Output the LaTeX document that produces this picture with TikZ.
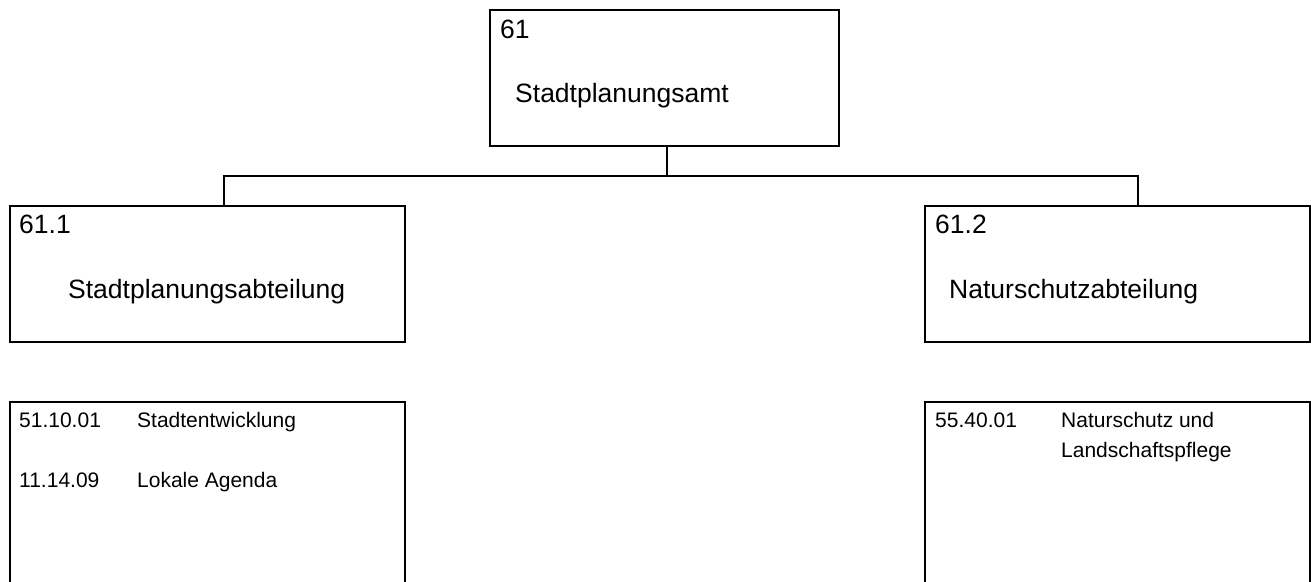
\documentclass[tikz,border=0pt]{standalone}
\usepackage{fontspec}
\setmainfont{Liberation Sans}
\begin{document}
\begin{tikzpicture}[x=1pt,y=-1pt,
  box/.style={draw, line width=2pt, rectangle, outer sep=0pt, inner sep=0pt, anchor=north west},
  big/.style={anchor=base west, inner sep=0pt, font=\fontsize{26.5}{30}\selectfont},
  small/.style={anchor=base west, inner sep=0pt, font=\fontsize{21}{30}\selectfont},
  conn/.style={line width=2pt}]
\path[use as bounding box] (0,0) rectangle (1311,581);
\clip (0,0) rectangle (1311,581);
% boxes
\node[box, minimum width=349pt, minimum height=136pt] (top) at (490,10) {};
\node[box, minimum width=395pt, minimum height=136pt] (l1) at (10,206) {};
\node[box, minimum width=385pt, minimum height=136pt] (r1) at (925,206) {};
\node[box, minimum width=395pt, minimum height=220pt] (l2) at (10,402) {};
\node[box, minimum width=385pt, minimum height=220pt] (r2) at (925,402) {};
% texts
\node[big] (t61) at (500,38) {61};
\node[big] (tamt) at (515,102) {Stadtplanungsamt};
\node[big] (t611) at (19,233) {61.1};
\node[big] (tspa) at (68,298) {Stadtplanungsabteilung};
\node[big] (t612) at (935,233) {61.2};
\node[big] (tnsa) at (949,298) {Naturschutzabteilung};
\node[small] (n1) at (19,427) {51.10.01};
\node[small] (s1) at (137,427) {Stadtentwicklung};
\node[small] (n2) at (19,487) {11.14.09};
\node[small] (s2) at (137,487) {Lokale Agenda};
\node[small] (n3) at (935,427) {55.40.01};
\node[small] (s3) at (1061,427) {Naturschutz und};
\node[small] (s4) at (1061,457) {Landschaftspflege};
% connectors
\coordinate (c0) at (667,176);
\coordinate (c1) at (224,176);
\coordinate (c2) at (1138,176);
\draw[conn] (c0 |- top.south) -- (c0);
\draw[conn] (c1 |- l1.north) -- (c1) -- (c2) -- (c2 |- r1.north);
\end{tikzpicture}
\end{document}
